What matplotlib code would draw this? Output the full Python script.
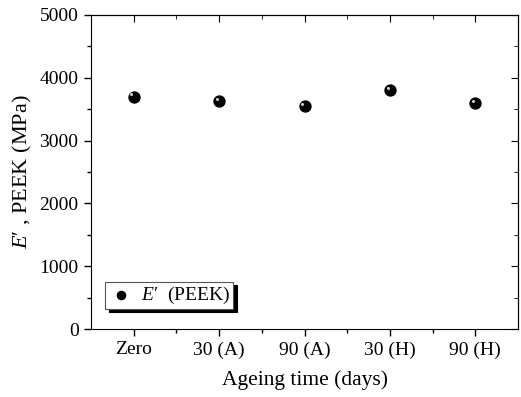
import matplotlib
matplotlib.use("Agg")
import matplotlib.pyplot as plt
import matplotlib.transforms as mtransforms
import numpy as np

plt.rcParams['font.family'] = ['Liberation Serif', 'DejaVu Serif']
plt.rcParams['mathtext.fontset'] = 'custom'
plt.rcParams['mathtext.it'] = 'Liberation Serif:italic'
plt.rcParams['mathtext.rm'] = 'Liberation Serif'

# data
categories = ["Zero", "30 (A)", "90 (A)", "30 (H)", "90 (H)"]
modulus = [3700, 3630, 3555, 3805, 3600]

fig = plt.figure(figsize=(5.21, 3.97), dpi=100)
ax = fig.add_axes([91 / 521, 1 - 329 / 397, 427 / 521, 314 / 397])

x = np.arange(len(categories))
ax.scatter(x, modulus, s=62, color="black", zorder=3, label=r"$E$′  (PEEK)")
# little highlight to mimic the shaded sphere marker
hl = mtransforms.offset_copy(ax.transData, fig=fig, x=-1.6, y=1.6, units="points")
ax.scatter(x, modulus, s=5, color="#c8c8c8", zorder=4, transform=hl, linewidths=0)

ax.set_xlim(-0.5, 4.5)
ax.set_ylim(0, 5000)
ax.set_xticks(x)
ax.set_xticklabels(categories, fontsize=14)
ax.set_xticks(x[:-1] + 0.5, minor=True)
ax.set_yticks(np.arange(0, 5001, 1000))
ax.set_yticks(np.arange(500, 5000, 1000), minor=True)
ax.tick_params(axis="y", labelsize=14)

ax.tick_params(which="major", direction="out", length=5, width=1, pad=4)
ax.tick_params(which="minor", direction="out", length=3, width=1)
# mirror ticks on top and right, pointing inward
top = ax.secondary_xaxis("top")
top.set_xticks(x)
top.set_xticks(x[:-1] + 0.5, minor=True)
top.tick_params(which="major", direction="in", length=5, labeltop=False)
top.tick_params(which="minor", direction="in", length=3)
right = ax.secondary_yaxis("right")
right.set_yticks(np.arange(0, 5001, 1000))
right.set_yticks(np.arange(500, 5000, 1000), minor=True)
right.tick_params(which="major", direction="in", length=5, labelright=False)
right.tick_params(which="minor", direction="in", length=3)

ax.set_xlabel("Ageing time (days)", fontsize=15.5, labelpad=8)
ax.set_ylabel(r"$E$′ , PEEK (MPa)", fontsize=16, labelpad=4)

leg = ax.legend(loc="lower left", bbox_to_anchor=(0.033, 0.064), fontsize=14,
                frameon=True, fancybox=False, handletextpad=0.4,
                borderpad=0.15, borderaxespad=0, handlelength=1.3,
                markerscale=0.75,
                shadow={"ox": 2.5, "oy": -2.5, "color": "black", "alpha": 1})
leg.get_frame().set_edgecolor("#555555")
leg.get_frame().set_linewidth(0.8)

fig.savefig("out.png", dpi=100)
